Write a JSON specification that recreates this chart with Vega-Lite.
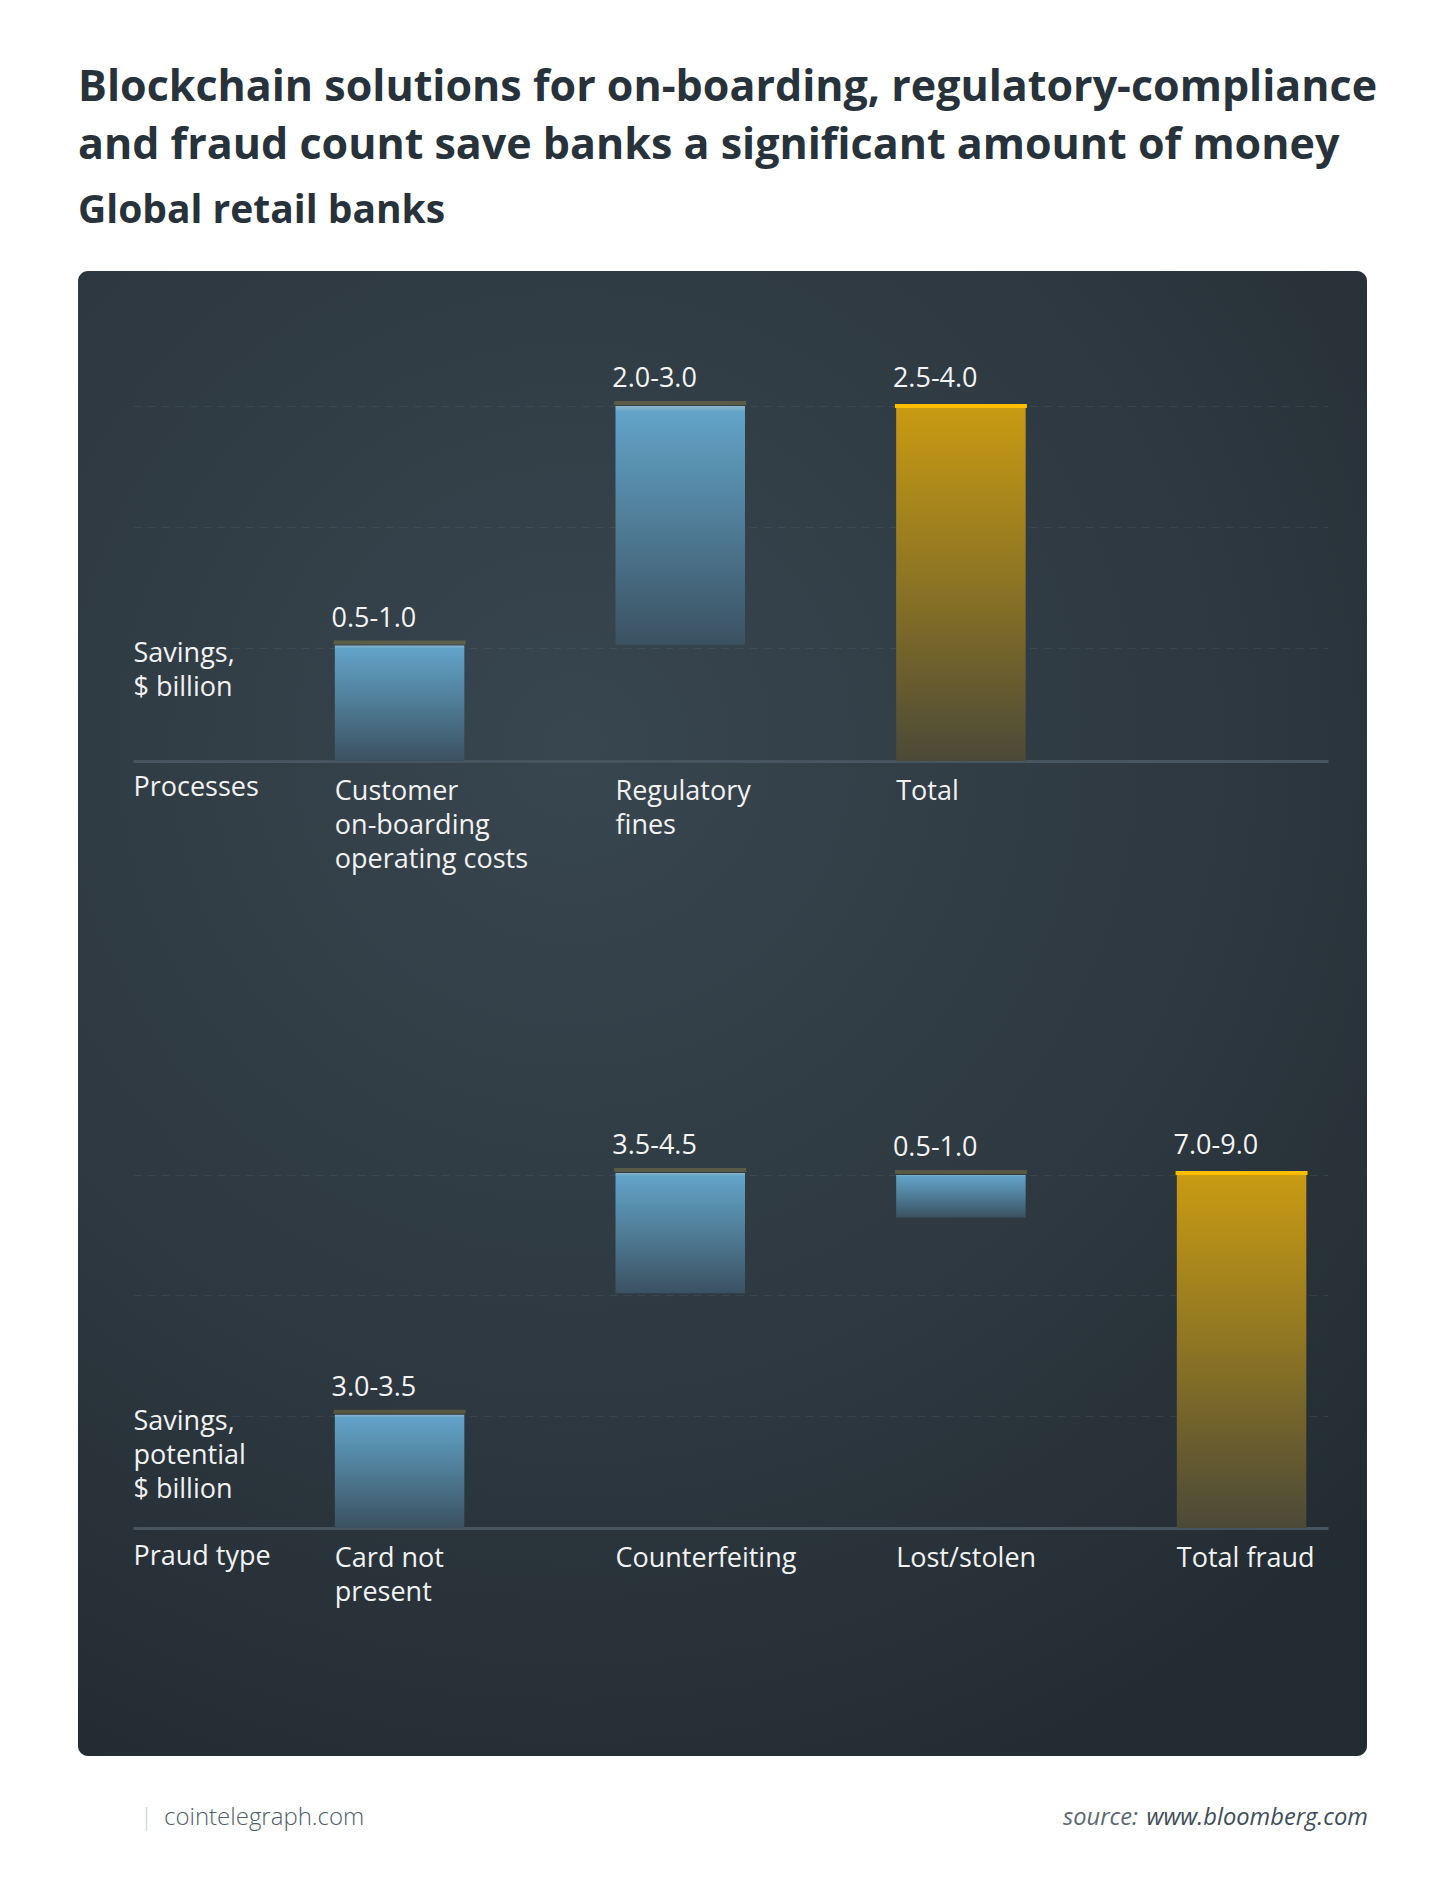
{
  "$schema": "https://vega.github.io/schema/vega-lite/v6.json",
  "description": "Blockchain savings for global retail banks, two waterfall panels",
  "background": "#ffffff",
  "padding": {"left": 78, "top": 67, "right": 84, "bottom": 20},
  "title": {
    "text": ["Blockchain solutions for on-boarding, regulatory-compliance", "and fraud count save banks a significant amount of money"],
    "subtitle": "Global retail banks",
    "anchor": "start",
    "font": "Open Sans",
    "fontSize": 43,
    "fontWeight": "bold",
    "color": "#27323a",
    "lineHeight": 58,
    "subtitleFont": "Open Sans",
    "subtitleFontSize": 39,
    "subtitleFontWeight": "bold",
    "subtitleColor": "#27323a",
    "subtitlePadding": 24,
    "offset": 40
  },
  "datasets": {
    "processes": [
      {"cat": "Customer|on-boarding|operating costs", "start": 0, "end": 1.3, "label": "0.5-1.0", "kind": "part"},
      {"cat": "Regulatory|fines", "start": 1.31, "end": 4.0, "label": "2.0-3.0", "kind": "part"},
      {"cat": "Total", "start": 0, "end": 4.0, "label": "2.5-4.0", "kind": "total"}
    ],
    "fraud": [
      {"cat": "Card not|present", "start": 0, "end": 2.87, "label": "3.0-3.5", "kind": "part"},
      {"cat": "Counterfeiting", "start": 5.95, "end": 9.0, "label": "3.5-4.5", "kind": "part"},
      {"cat": "Lost/stolen", "start": 7.87, "end": 8.95, "label": "0.5-1.0", "kind": "part"},
      {"cat": "Total fraud", "start": 0, "end": 9.0, "label": "7.0-9.0", "kind": "total"}
    ]
  },
  "spacing": 0,
  "vconcat": [
    {
      "width": 1289,
      "height": 1485,
      "view": {
        "cornerRadius": 10,
        "stroke": null,
        "fill": {
          "gradient": "radial",
          "x1": 0.4, "y1": 0.32, "r1": 0,
          "x2": 0.4, "y2": 0.32, "r2": 0.75,
          "stops": [
            {"offset": 0, "color": "#38464f"},
            {"offset": 0.55, "color": "#2e3941"},
            {"offset": 1, "color": "#242c33"}
          ]
        }
      },
      "resolve": {
        "scale": {"x": "independent", "y": "independent"},
        "axis": {"x": "independent", "y": "independent"}
      },
      "layer": [
        {
          "data": {"name": "processes"},
          "encoding": {
            "x": {
              "field": "cat", "type": "nominal", "sort": null,
              "scale": {
                "type": "band",
                "domain": ["Customer|on-boarding|operating costs", "Regulatory|fines", "Total", "_"],
                "range": [55, 1250], "paddingInner": 0.5386, "paddingOuter": 0.3982, "align": 0.903
              },
              "axis": {
                "orient": "bottom", "offset": -995,
                "domainColor": "#465560", "domainWidth": 3,
                "ticks": false, "tickSize": 0, "grid": false,
                "labelExpr": "datum.label == '_' ? '' : split(datum.label, '|')",
                "labelAlign": "left", "labelBaseline": "alphabetic", "labelPadding": 38,
                "labelOffset": -64.75, "labelLineHeight": 34, "labelFont": "Open Sans",
                "labelFontSize": 27, "labelColor": "#f2f2f2", "labelAngle": 0,
                "labelOverlap": false, "labelBound": false, "labelLimit": 0,
                "title": "Processes", "titleX": 55, "titleY": 34, "titleAlign": "left",
                "titleBaseline": "alphabetic", "titleFont": "Open Sans", "titleFontSize": 27,
                "titleFontWeight": "normal", "titleColor": "#f2f2f2"
              }
            },
            "y": {
              "field": "end", "type": "quantitative",
              "scale": {"domain": [-11.211, 5.521], "nice": false, "zero": false},
              "axis": {
                "orient": "left", "values": [1.27, 2.64, 4.0],
                "grid": true, "gridColor": "#7d8e99", "gridOpacity": 0.15, "gridDash": [8, 6],
                "labels": false, "ticks": false, "domain": false,
                "title": ["Savings,", "$ billion"], "titleAngle": 0, "titleAlign": "left",
                "titleBaseline": "alphabetic", "titleX": 55, "titleY": 390,
                "titleFont": "Open Sans", "titleFontSize": 27, "titleFontWeight": "normal",
                "titleColor": "#f2f2f2", "titleLineHeight": 34
              }
            }
          },
          "layer": [
            {
              "transform": [{"filter": "datum.kind == 'part'"}],
              "mark": {
                "type": "bar",
                "fill": {
                  "gradient": "linear", "x1": 0, "y1": 0, "x2": 0, "y2": 1,
                  "stops": [
                    {"offset": 0, "color": "#8db6cc"},
                    {"offset": 0.025, "color": "#62a3c8"},
                    {"offset": 0.5, "color": "#4f7c96"},
                    {"offset": 1, "color": "#3b5161"}
                  ]
                }
              },
              "encoding": {"y2": {"field": "start"}}
            },
            {
              "transform": [{"filter": "datum.kind == 'total'"}],
              "mark": {
                "type": "bar",
                "fill": {
                  "gradient": "linear", "x1": 0, "y1": 0, "x2": 0, "y2": 1,
                  "stops": [
                    {"offset": 0, "color": "#c99b12"},
                    {"offset": 0.5, "color": "#8c7424"},
                    {"offset": 1, "color": "#4b4938"}
                  ]
                }
              },
              "encoding": {"y2": {"field": "start"}}
            },
            {
              "transform": [{"filter": "datum.kind == 'part'"}],
              "mark": {"type": "tick", "orient": "horizontal", "thickness": 4, "size": 132, "color": "#c7ad4a", "opacity": 0.28, "yOffset": -3}
            },
            {
              "transform": [{"filter": "datum.kind == 'total'"}],
              "mark": {"type": "tick", "orient": "horizontal", "thickness": 4, "size": 132, "color": "#ffbf00", "opacity": 1}
            },
            {
              "mark": {"type": "text", "align": "left", "baseline": "alphabetic", "dx": -68, "dy": -19, "font": "Open Sans", "fontSize": 27, "color": "#f4f4f4"},
              "encoding": {"text": {"field": "label"}}
            }
          ]
        },
        {
          "data": {"name": "fraud"},
          "encoding": {
            "x": {
              "field": "cat", "type": "nominal", "sort": null,
              "scale": {
                "type": "band",
                "domain": ["Card not|present", "Counterfeiting", "Lost/stolen", "Total fraud"],
                "range": [55, 1250], "paddingInner": 0.5386, "paddingOuter": 0.3982, "align": 0.903
              },
              "axis": {
                "orient": "bottom", "offset": -228,
                "domainColor": "#465560", "domainWidth": 3,
                "ticks": false, "tickSize": 0, "grid": false,
                "labelExpr": "split(datum.label, '|')",
                "labelAlign": "left", "labelBaseline": "alphabetic", "labelPadding": 38,
                "labelOffset": -64.75, "labelLineHeight": 34, "labelFont": "Open Sans",
                "labelFontSize": 27, "labelColor": "#f2f2f2", "labelAngle": 0,
                "labelOverlap": false, "labelBound": false, "labelLimit": 0,
                "title": "Praud type", "titleX": 55, "titleY": 36, "titleAlign": "left",
                "titleBaseline": "alphabetic", "titleFont": "Open Sans", "titleFontSize": 27,
                "titleFontWeight": "normal", "titleColor": "#f2f2f2"
              }
            },
            "y": {
              "field": "end", "type": "quantitative",
              "scale": {"domain": [-5.781, 31.87], "nice": false, "zero": false},
              "axis": {
                "orient": "left", "values": [2.85, 5.9, 8.95],
                "grid": true, "gridColor": "#7d8e99", "gridOpacity": 0.15, "gridDash": [8, 6],
                "labels": false, "ticks": false, "domain": false,
                "title": ["Savings,", "potential", "$ billion"], "titleAngle": 0, "titleAlign": "left",
                "titleBaseline": "alphabetic", "titleX": 55, "titleY": 1158,
                "titleFont": "Open Sans", "titleFontSize": 27, "titleFontWeight": "normal",
                "titleColor": "#f2f2f2", "titleLineHeight": 34
              }
            }
          },
          "layer": [
            {
              "transform": [{"filter": "datum.kind == 'part'"}],
              "mark": {
                "type": "bar",
                "fill": {
                  "gradient": "linear", "x1": 0, "y1": 0, "x2": 0, "y2": 1,
                  "stops": [
                    {"offset": 0, "color": "#8db6cc"},
                    {"offset": 0.025, "color": "#62a3c8"},
                    {"offset": 0.5, "color": "#4f7c96"},
                    {"offset": 1, "color": "#3b5161"}
                  ]
                }
              },
              "encoding": {"y2": {"field": "start"}}
            },
            {
              "transform": [{"filter": "datum.kind == 'total'"}],
              "mark": {
                "type": "bar",
                "fill": {
                  "gradient": "linear", "x1": 0, "y1": 0, "x2": 0, "y2": 1,
                  "stops": [
                    {"offset": 0, "color": "#c99b12"},
                    {"offset": 0.5, "color": "#8c7424"},
                    {"offset": 1, "color": "#4b4938"}
                  ]
                }
              },
              "encoding": {"y2": {"field": "start"}}
            },
            {
              "transform": [{"filter": "datum.kind == 'part'"}],
              "mark": {"type": "tick", "orient": "horizontal", "thickness": 4, "size": 132, "color": "#c7ad4a", "opacity": 0.28, "yOffset": -3}
            },
            {
              "transform": [{"filter": "datum.kind == 'total'"}],
              "mark": {"type": "tick", "orient": "horizontal", "thickness": 4, "size": 132, "color": "#ffbf00", "opacity": 1}
            },
            {
              "mark": {"type": "text", "align": "left", "baseline": "alphabetic", "dx": -68, "dy": -19, "font": "Open Sans", "fontSize": 27, "color": "#f4f4f4"},
              "encoding": {"text": {"field": "label"}}
            }
          ]
        }
      ]
    },
    {
      "width": 1289,
      "height": 138,
      "view": {"fill": null, "stroke": null},
      "resolve": {"scale": {"x": "independent"}},
      "data": {
        "values": [
          {"part": "brand", "text": "cointelegraph.com", "color": "#4e5d69"},
          {"part": "sep", "text": "|", "color": "#c8d0d4"},
          {"part": "source", "text": "source:", "color": "#5d6872"},
          {"part": "site", "text": "www.bloomberg.com", "color": "#3f4d59"}
        ]
      },
      "layer": [
        {
          "transform": [{"filter": "datum.part == 'brand' || datum.part == 'sep'"}],
          "mark": {"type": "text", "align": "left", "baseline": "alphabetic", "font": "Open Sans", "fontSize": 24, "fontWeight": 300},
          "encoding": {
            "x": {"field": "part", "type": "nominal", "scale": {"type": "point", "padding": 0, "domain": ["brand", "sep"], "range": [86, 62]}, "axis": null},
            "text": {"field": "text"},
            "color": {"field": "color", "type": "nominal", "scale": null}
          }
        },
        {
          "transform": [{"filter": "datum.part == 'source' || datum.part == 'site'"}],
          "mark": {"type": "text", "align": "right", "baseline": "alphabetic", "font": "Open Sans", "fontSize": 23.7, "fontStyle": "italic"},
          "encoding": {
            "x": {"field": "part", "type": "nominal", "scale": {"type": "point", "padding": 0, "domain": ["source", "site"], "range": [1060, 1290]}, "axis": null},
            "text": {"field": "text"},
            "color": {"field": "color", "type": "nominal", "scale": null},
            "fontWeight": {"condition": {"test": "datum.part == 'site'", "value": 600}, "value": 300}
          }
        }
      ]
    }
  ],
  "config": {
    "view": {"stroke": null},
    "font": "Open Sans"
  }
}
